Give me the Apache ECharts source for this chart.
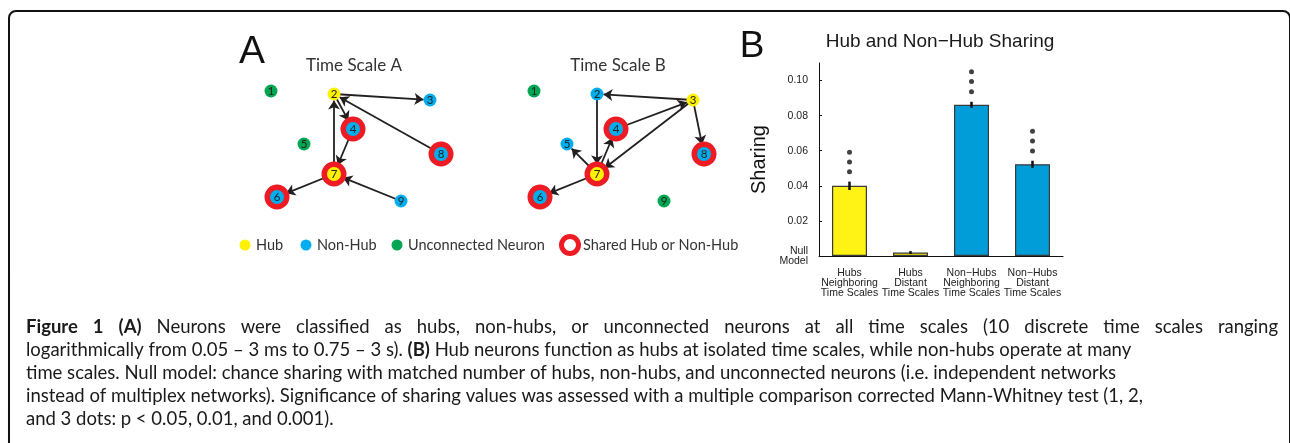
<!DOCTYPE html>
<html>
<head>
<meta charset="utf-8">
<script src="https://cdn.jsdelivr.net/npm/echarts@6/dist/echarts.min.js"></script>
<style>
html, body { margin: 0; padding: 0; background: #fff; }
#main { width: 1290px; height: 443px; }
</style>
</head>
<body>
<div id="main"></div>
<script>
// panel A: neuron layout, same in both time scales
var nodeNames = ['1', '2', '3', '4', '5', '6', '7', '8', '9'];
var nodeX = [16, 79, 175, 98, 49, 22, 79, 186, 146];
var nodeY = [11, 14, 20, 49, 64, 117, 94, 74, 121];

// time scale A
var rolesA = ['unconnected', 'hub', 'nonhub', 'nonhub', 'unconnected', 'nonhub', 'hub', 'nonhub', 'nonhub'];
var sharedA = [0, 0, 0, 1, 0, 1, 1, 1, 0];
var edgesA = [[2, 3], [2, 4], [8, 2], [7, 2], [4, 7], [7, 6], [9, 7]];
// time scale B
var rolesB = ['unconnected', 'nonhub', 'hub', 'nonhub', 'nonhub', 'nonhub', 'hub', 'nonhub', 'unconnected'];
var sharedB = [0, 0, 0, 1, 0, 1, 1, 1, 0];
var edgesB = [[3, 2], [2, 7], [4, 3], [3, 7], [7, 4], [7, 5], [7, 6], [3, 8]];

var legendLabels = ['Hub', 'Non-Hub', 'Unconnected Neuron', 'Shared Hub or Non-Hub'];

// panel B
var categories = ['Hubs\nNeighboring\nTime Scales', 'Hubs\nDistant\nTime Scales',
    'Non\u2212Hubs\nNeighboring\nTime Scales', 'Non\u2212Hubs\nDistant\nTime Scales'];
var sharing = [0.0400, 0.0020, 0.0862, 0.0523];
var sharingErr = [0.0024, 0.0008, 0.0017, 0.0020];
// significance dots (1, 2, 3 dots)
var dot1 = [0.0480, null, 0.0936, 0.0599];
var dot2 = [0.0536, null, 0.0995, 0.0656];
var dot3 = [0.0591, null, 0.1050, 0.0711];
var yTicks = [0, 0.02, 0.04, 0.06, 0.08, 0.10];

var captionLines = [
    '{b|Figure 1 (A)} Neurons were classified as hubs, non-hubs, or unconnected neurons at all time scales (10 discrete time scales ranging',
    'logarithmically from 0.05 \u2013 3 ms to 0.75 \u2013 3 s). {b|(B)} Hub neurons function as hubs at isolated time scales, while non-hubs operate at many',
    'time scales. Null model: chance sharing with matched number of hubs, non-hubs, and unconnected neurons (i.e. independent networks',
    'instead of multiplex networks). Significance of sharing values was assessed with a multiple comparison corrected Mann-Whitney test (1, 2,',
    'and 3 dots: p < 0.05, 0.01, and 0.001).'
];

var roleColor = { hub: '#FFF200', nonhub: '#00AEEF', unconnected: '#00A651' };
var ringColor = '#ED1C24';
var barColors = ['#FFF214', '#FFF214', '#009DD9', '#009DD9'];
var capFont = 'Lato';
var capSize = 18.5;

function makeNodes(roles, shared) {
    return nodeNames.map(function (n, i) {
        var ring = shared[i] === 1;
        return {
            name: n,
            value: [nodeX[i], nodeY[i]],
            symbolSize: ring ? 19.5 : 13,
            itemStyle: { color: roleColor[roles[i]], borderColor: ringColor, borderWidth: ring ? 5.5 : 0 }
        };
    });
}
function makeLinks(edges) {
    return edges.map(function (e) { return { source: String(e[0]), target: String(e[1]) }; });
}
function graphSeries(idx, roles, shared, edges) {
    return {
        type: 'graph',
        coordinateSystem: 'cartesian2d',
        xAxisIndex: idx,
        yAxisIndex: idx,
        data: makeNodes(roles, shared),
        links: makeLinks(edges),
        edgeSymbol: ['none', 'arrow'],
        edgeSymbolSize: [0, 9],
        lineStyle: { color: '#231F20', width: 1.8, opacity: 1, curveness: 0 },
        label: { show: true, position: 'inside', fontSize: 11.5, color: '#222', fontFamily: capFont },
        emphasis: { disabled: true },
        silent: true
    };
}

// caption graphics; first line is justified across the box
var graphics = [];
graphics.push({
    type: 'rect', shape: { x: 9, y: 11, width: 1281, height: 460, r: 7 },
    style: { fill: 'none', stroke: '#111', lineWidth: 2 }
});
var ctx = document.createElement('canvas').getContext('2d');
function wordsOf(line) {
    var out = [];
    line.replace(/\{b\|([^}]*)\}/g, function (m, t) { return '\u0001' + t.split(' ').join('\u0002') + '\u0001'; })
        .split(' ').forEach(function (w) {
            var bold = w.indexOf('\u0001') >= 0;
            w.replace(/\u0001/g, '').split('\u0002').forEach(function (p) { out.push({ t: p, bold: bold }); });
        });
    return out;
}
var lineY = [327, 350, 373, 396, 419];
(function () {
    var words = wordsOf(captionLines[0]);
    var total = 0;
    words.forEach(function (w) {
        ctx.font = (w.bold ? 'bold ' : '') + capSize + 'px ' + capFont;
        w.w = ctx.measureText(w.t).width;
        total += w.w;
    });
    var gap = (1278 - 26 - total) / (words.length - 1);
    var x = 26;
    words.forEach(function (w) {
        graphics.push({
            type: 'text', x: x, y: lineY[0],
            style: { text: w.t, font: (w.bold ? 'bold ' : '') + capSize + 'px ' + capFont, fill: '#1a1a1a', textVerticalAlign: 'middle' }
        });
        x += w.w + gap;
    });
})();
for (var li = 1; li < captionLines.length; li++) {
    graphics.push({
        type: 'text', x: 26, y: lineY[li],
        style: {
            text: captionLines[li], fontFamily: capFont, fontSize: capSize, fill: '#1a1a1a', textVerticalAlign: 'middle',
            rich: { b: { fontFamily: capFont, fontSize: capSize, fontWeight: 'bold', color: '#1a1a1a' } }
        }
    });
}

// panel letters and titles
graphics.push({ type: 'text', x: 252, y: 52, style: { text: 'A', fontFamily: 'Liberation Sans', fontSize: 39, fill: '#111', textAlign: 'center', textVerticalAlign: 'middle' } });
graphics.push({ type: 'text', x: 752, y: 47, style: { text: 'B', fontFamily: 'Liberation Sans', fontSize: 37, fill: '#111', textAlign: 'center', textVerticalAlign: 'middle' } });
graphics.push({ type: 'text', x: 354, y: 66, style: { text: 'Time Scale A', fontFamily: capFont, fontSize: 17, fill: '#333', textAlign: 'center', textVerticalAlign: 'middle' } });
graphics.push({ type: 'text', x: 618, y: 66, style: { text: 'Time Scale B', fontFamily: capFont, fontSize: 17, fill: '#333', textAlign: 'center', textVerticalAlign: 'middle' } });
graphics.push({ type: 'text', x: 940, y: 42, style: { text: 'Hub and Non\u2212Hub Sharing', fontFamily: 'Liberation Sans', fontSize: 19, fill: '#1a1a1a', textAlign: 'center', textVerticalAlign: 'middle' } });

// legend of panel A
var legendX = [245, 306, 397, 570];
var legendFill = [roleColor.hub, roleColor.nonhub, roleColor.unconnected, '#fff'];
legendLabels.forEach(function (lab, i) {
    var ring = i === 3;
    graphics.push({
        type: 'circle', shape: { cx: legendX[i], cy: 245, r: ring ? 8.5 : 5.5 },
        style: { fill: legendFill[i], stroke: ring ? ringColor : null, lineWidth: ring ? 5 : 0 }
    });
    graphics.push({
        type: 'text', x: legendX[i] + (ring ? 13 : 11), y: 245,
        style: { text: lab, fontFamily: capFont, fontSize: 14.5, fill: '#333', textVerticalAlign: 'middle' }
    });
});

var chart = echarts.init(document.getElementById('main'));
var option = {
    animation: false,
    backgroundColor: '#fff',
    graphic: graphics,
    grid: [
        { left: 255, top: 80, width: 200, height: 135 },
        { left: 518, top: 80, width: 200, height: 135 },
        { left: 819, top: 63, width: 244, height: 193 }
    ],
    xAxis: [
        { gridIndex: 0, type: 'value', min: 0, max: 200, show: false },
        { gridIndex: 1, type: 'value', min: 0, max: 200, show: false },
        {
            gridIndex: 2, type: 'category', data: categories,
            axisLine: { lineStyle: { color: '#111', width: 1 } },
            axisTick: { show: false },
            axisLabel: { interval: 0, fontFamily: 'Liberation Sans', fontSize: 10.5, lineHeight: 10, color: '#222', margin: 12 }
        }
    ],
    yAxis: [
        { gridIndex: 0, type: 'value', min: 0, max: 135, inverse: true, show: false },
        { gridIndex: 1, type: 'value', min: 0, max: 135, inverse: true, show: false },
        {
            gridIndex: 2, type: 'value', min: 0, max: 0.11, interval: 0.02,
            name: 'Sharing', nameLocation: 'middle', nameGap: 50, nameRotate: 90,
            nameTextStyle: { fontFamily: 'Liberation Sans', fontSize: 20, color: '#111' },
            axisLine: { show: true, lineStyle: { color: '#111', width: 1 } },
            axisTick: { show: true, inside: true, length: 3, customValues: yTicks, lineStyle: { color: '#111' } },
            splitLine: { show: false },
            axisLabel: {
                customValues: yTicks,
                fontFamily: 'Liberation Sans', fontSize: 10.5, lineHeight: 10, color: '#222', margin: 11, align: 'right',
                formatter: function (v) { return v === 0 ? 'Null\nModel' : (v > 0.105 ? '' : v.toFixed(2)); }
            }
        }
    ],
    series: [
        graphSeries(0, rolesA, sharedA, edgesA),
        graphSeries(1, rolesB, sharedB, edgesB),
        {
            type: 'bar', xAxisIndex: 2, yAxisIndex: 2, barWidth: 35,
            data: sharing.map(function (v, i) { return { value: v, itemStyle: { color: barColors[i] } }; }),
            itemStyle: { borderColor: '#3a3a3a', borderWidth: 1.2 },
            silent: true
        },
        {
            type: 'custom', xAxisIndex: 2, yAxisIndex: 2, z: 5,
            encode: { x: 0, y: [1, 2] },
            data: sharing.map(function (v, i) { return [i, v - sharingErr[i], v + sharingErr[i]]; }),
            renderItem: function (params, api) {
                var lo = api.coord([api.value(0), api.value(1)]);
                var hi = api.coord([api.value(0), api.value(2)]);
                return { type: 'line', shape: { x1: lo[0], y1: lo[1], x2: hi[0], y2: hi[1] }, style: { stroke: '#111', lineWidth: 2.5 } };
            },
            silent: true
        },
        {
            type: 'scatter', xAxisIndex: 2, yAxisIndex: 2, symbolSize: 5,
            itemStyle: { color: '#111' },
            data: [dot1, dot2, dot3].reduce(function (acc, arr) {
                arr.forEach(function (v, i) { if (v !== null) acc.push([i, v]); });
                return acc;
            }, []),
            silent: true
        }
    ]
};
chart.setOption(option);
</script>
</body>
</html>
